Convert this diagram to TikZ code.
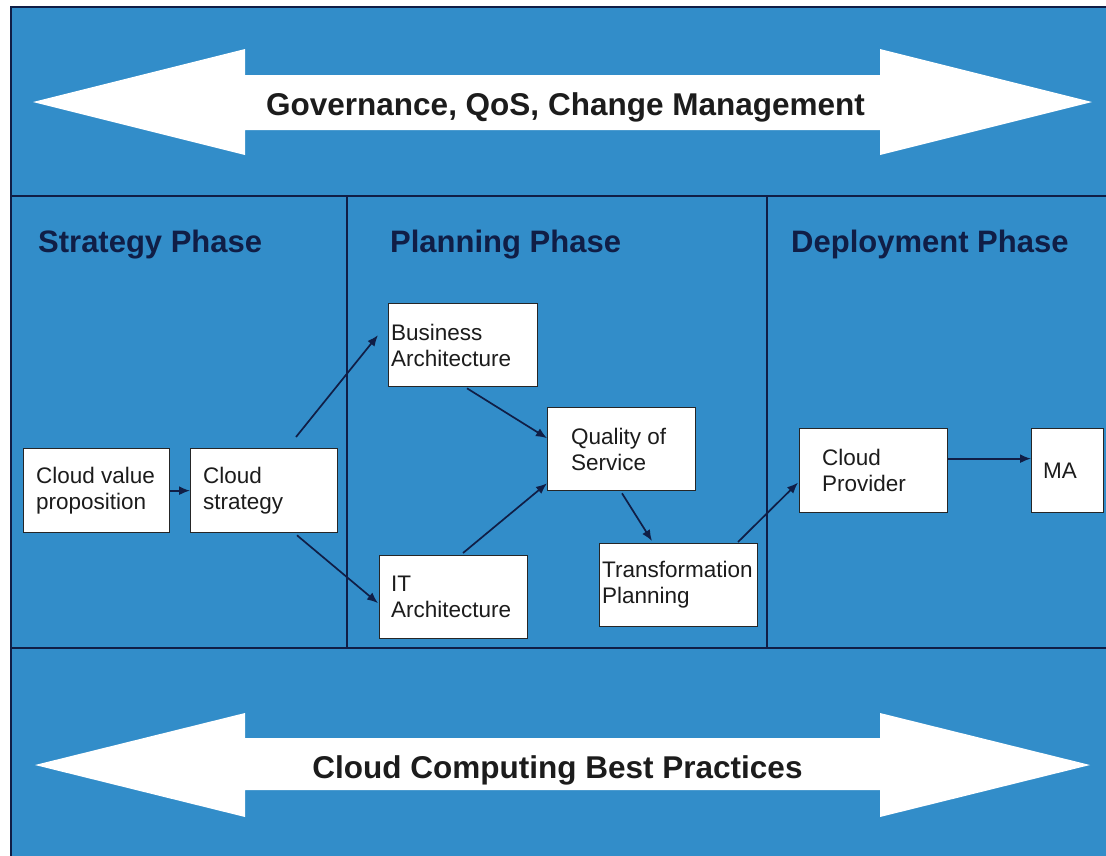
\documentclass[tikz,border=0pt]{standalone}
\usepackage{fontspec}
\setmainfont{Liberation Sans}
\usetikzlibrary{arrows.meta,calc}
\definecolor{bgblue}{RGB}{50,141,201}
\definecolor{navy}{RGB}{16,30,70}
\definecolor{txt}{RGB}{28,28,28}
\tikzset{
  box/.style={draw=black!85, fill=white, line width=1.3pt, inner sep=0pt, anchor=north west},
  boxtext/.style={anchor=west, align=left, inner sep=0pt, text=txt, font=\fontsize{22.5}{26}\selectfont},
  conn/.style={draw=navy, line width=1.7pt, -{Latex[length=11pt,width=9pt]}},
  heading/.style={anchor=base west, inner sep=0pt, text=navy, font=\fontsize{31}{35}\selectfont\bfseries},
  banner/.style={anchor=base, inner sep=0pt, text=txt, font=\fontsize{31.5}{36}\selectfont\bfseries},
  bigarrow/.style={fill=white, draw=none},
  divider/.style={draw=navy, line width=1.6pt},
  frame/.style={fill=bgblue, draw=navy, line width=1.6pt}
}
\begin{document}
\begin{tikzpicture}[x=1pt,y=-1pt]
\useasboundingbox (0,0) rectangle (1106,855);
\clip (0,0) rectangle (1106,855);
\fill[white] (0,0) rectangle (1106,855);
\draw[frame] (11,7) rectangle (1112,862);
% dividers
\draw[divider] (11,196) -- (1112,196);
\draw[divider] (11,648) -- (1112,648);
\draw[divider] (347,196) -- (347,648);
\draw[divider] (767,196) -- (767,648);
% big double arrows
\fill[bigarrow] (33,102) -- (245,49) -- (245,75) -- (880,75) -- (880,49) -- (1092,102)
  -- (880,155) -- (880,130) -- (245,130) -- (245,155) -- cycle;
\fill[bigarrow] (35,765) -- (245,713) -- (245,738) -- (880,738) -- (880,713) -- (1090,765)
  -- (880,817) -- (880,790) -- (245,790) -- (245,817) -- cycle;
\node[banner] (gov) at (565.5,115) {Governance, QoS, Change Management};
\node[banner] (ccbp) at (557.5,778) {Cloud Computing Best Practices};
% headings
\node[heading] (hs) at (38,252) {Strategy Phase};
\node[heading] (hp) at (390,252) {Planning Phase};
\node[heading] (hd) at (791,252) {Deployment Phase};
% boxes
\node[box, minimum width=146pt, minimum height=84pt] (cvp) at (23,448) {};
\node[box, minimum width=147pt, minimum height=84pt] (cs) at (190,448) {};
\node[box, minimum width=149pt, minimum height=83pt] (ba) at (388,303) {};
\node[box, minimum width=148pt, minimum height=83pt] (it) at (379,555) {};
\node[box, minimum width=148pt, minimum height=83pt] (qos) at (547,407) {};
\node[box, minimum width=158pt, minimum height=83pt] (tp) at (599,543) {};
\node[box, minimum width=148pt, minimum height=84pt] (cp) at (799,428) {};
\node[box, minimum width=72pt, minimum height=84pt] (ma) at (1031,428) {};
% box texts
\node[boxtext] (tcvp) at ($(cvp.west)+(13,0)$) {Cloud value\\proposition};
\node[boxtext] (tcs) at ($(cs.west)+(13,0)$) {Cloud\\strategy};
\node[boxtext] (tba) at ($(ba.west)+(3,0)$) {Business\\Architecture};
\node[boxtext] (tit) at ($(it.west)+(12,0)$) {IT\\Architecture};
\node[boxtext] (tqos) at ($(qos.west)+(24,0)$) {Quality of\\Service};
\node[boxtext] (ttp) at ($(tp.west)+(3,0)$) {Transformation\\Planning};
\node[boxtext] (tcp) at ($(cp.west)+(23,0)$) {Cloud\\Provider};
\node[boxtext] (tma) at ($(ma.west)+(12,0)$) {MA};
% connectors
\draw[conn] (cvp.east) -- (cs.west);
\draw[conn] ($(cs.north west)+(106,-11)$) -- ($(ba.west)+(-10,-10)$);
\draw[conn] ($(cs.south west)+(107,2)$) -- ($(it.west)+(-1,6)$);
\draw[conn] ($(ba.south west)+(79,1)$) -- ($(qos.west)+(0,-11)$);
\draw[conn] ($(it.north west)+(84,-2)$) -- ($(qos.south west)+(0,-8)$);
\draw[conn] ($(qos.south west)+(75,2)$) -- ($(tp.north west)+(53,-2)$);
\draw[conn] ($(tp.north west)+(139,-1)$) -- ($(cp.west)+(-1,12)$);
\draw[conn] ($(cp.east)+(0,-12)$) -- ($(ma.west)+(0,-12)$);
\end{tikzpicture}
\end{document}
